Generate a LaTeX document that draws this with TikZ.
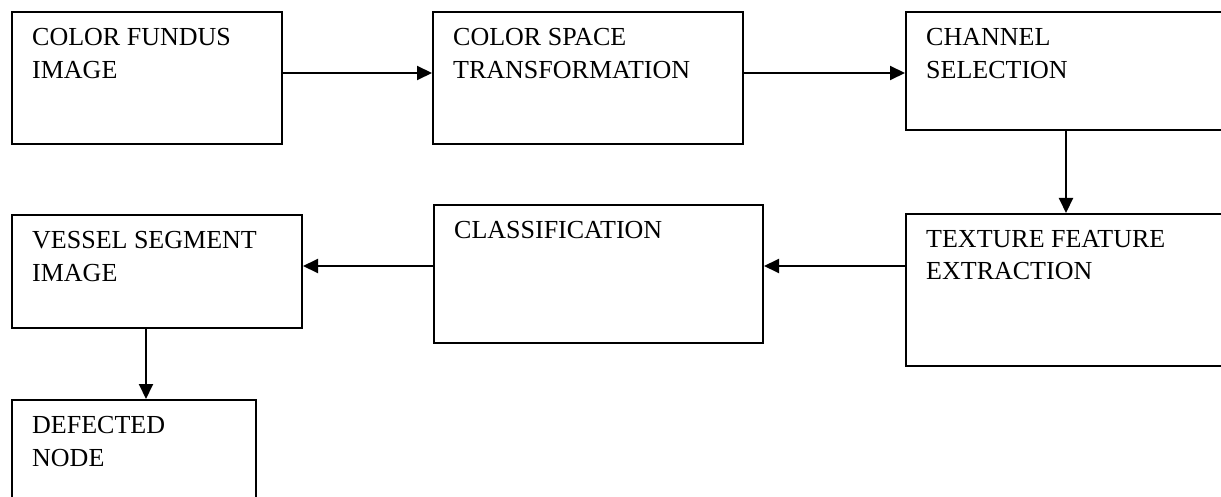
\documentclass[tikz,border=0pt]{standalone}
\usepackage{fontspec}
\setmainfont{Liberation Serif}
\usetikzlibrary{arrows.meta}
\begin{document}
\begin{tikzpicture}[x=1pt, y=-1pt,
    box/.style={draw, line width=2pt, rectangle, inner sep=0pt},
    txt/.style={anchor=north west, align=left, inner sep=0pt, xshift=21pt, yshift=-17pt,
      font=\fontsize{26}{32.6}\selectfont},
    arr/.style={line width=2pt, -{Triangle[length=15pt, width=14pt]}}]
    \useasboundingbox (0,0) rectangle (1221,497);
    \clip (0,0) rectangle (1221,497);
    \node (fundus) at (147, 78) [box, minimum width=270pt, minimum height=132pt,
      label={[txt]north west:COLOR FUNDUS\\IMAGE}] {};
    \node (space) at (588, 78) [box, minimum width=310pt, minimum height=132pt,
      label={[txt]north west:COLOR SPACE\\TRANSFORMATION}] {};
    \node (channel) at (1066, 71) [box, minimum width=320pt, minimum height=118pt,
      label={[txt]north west:CHANNEL\\SELECTION}] {};
    \node (texture) at (1066, 290) [box, minimum width=320pt, minimum height=152pt,
      label={[txt]north west:TEXTURE FEATURE\\EXTRACTION}] {};
    \node (classif) at (598.5, 274) [box, minimum width=329pt, minimum height=138pt,
      label={[txt]north west:CLASSIFICATION}] {};
    \node (vessel) at (157, 271.5) [box, minimum width=290pt, minimum height=113pt,
      label={[txt]north west:VESSEL SEGMENT\\IMAGE}] {};
    \node (defect) at (134, 465) [box, minimum width=244pt, minimum height=130pt,
      label={[txt]north west:DEFECTED\\NODE}] {};
    \draw[arr] ([yshift=5pt]fundus.east) to ([yshift=5pt]space.west);
    \draw[arr] ([yshift=5pt]space.east) to ([yshift=-2pt]channel.west);
    \draw[arr] (channel.south) to (texture.north);
    \draw[arr] ([yshift=24pt]texture.west) to ([yshift=8pt]classif.east);
    \draw[arr] ([yshift=8pt]classif.west) to ([yshift=5.5pt]vessel.east);
    \draw[arr] ([xshift=-11pt]vessel.south) to ([xshift=12pt]defect.north);
  \end{tikzpicture}
\end{document}
